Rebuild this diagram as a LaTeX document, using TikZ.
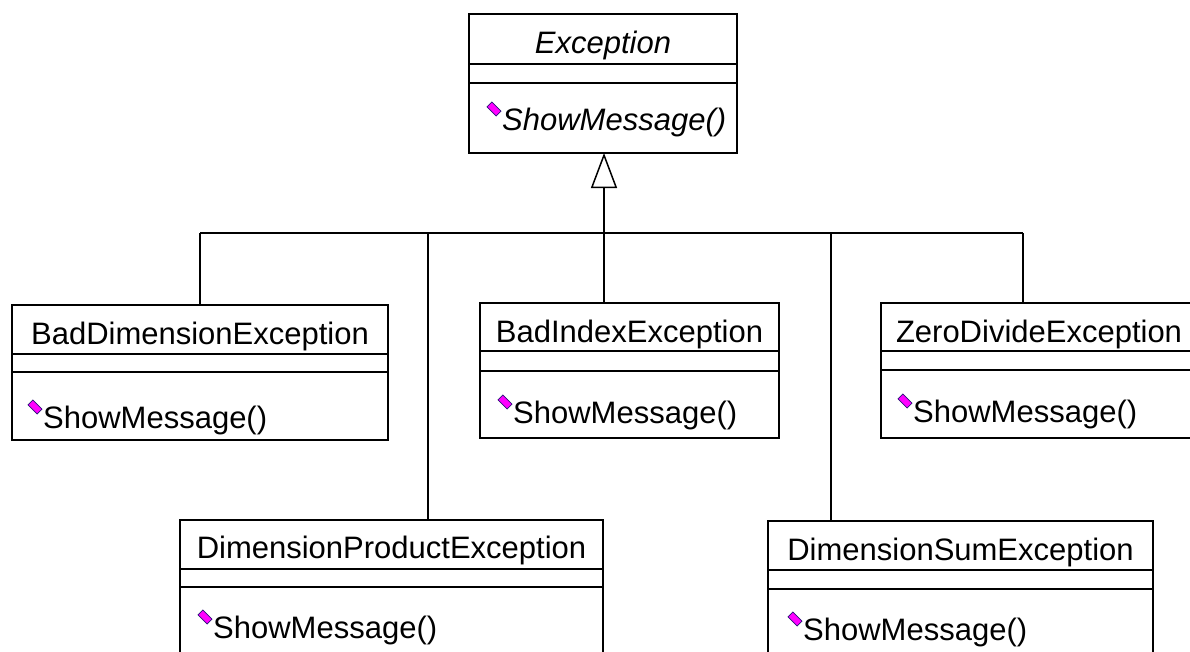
\documentclass[tikz,border=0pt]{standalone}
\usepackage{fontspec}
\setmainfont{Liberation Sans}
\usetikzlibrary{arrows.meta}
\definecolor{iconfill}{RGB}{255,0,255}
\definecolor{iconline}{RGB}{40,20,120}
\begin{document}
\begin{tikzpicture}[x=1pt,y=-1pt,
  cls/.style={draw,line width=1.5pt,inner sep=0pt,outer sep=0pt,fill=white,anchor=north west},
  sepline/.style={line width=1.5pt},
  conn/.style={line width=1.5pt},
  ttl/.style={inner sep=0pt,anchor=base,font=\fontsize{31}{31}\selectfont},
  meth/.style={inner sep=0pt,anchor=base west,font=\fontsize{31}{31}\selectfont},
  icon/.style={rectangle,draw=iconline,fill=iconfill,line width=0.7pt,inner sep=0pt,
    minimum width=13pt,minimum height=7pt,rotate=-45}]
\useasboundingbox (0,0) rectangle (1190,651);
\fill[white] (0,0) rectangle (1190,651);
\clip (0,0) rectangle (1190,651);

% class boxes
\node[cls,minimum width=268pt,minimum height=139pt] (exc) at (469,14) {};
\draw[sepline] (469,64) -- (737,64) (469,83) -- (737,83);
\node[cls,minimum width=376pt,minimum height=135pt] (bd) at (12,305) {};
\draw[sepline] (12,354) -- (388,354) (12,372) -- (388,372);
\node[cls,minimum width=299pt,minimum height=135pt] (bi) at (480,303) {};
\draw[sepline] (480,351) -- (779,351) (480,371) -- (779,371);
\node[cls,minimum width=316pt,minimum height=135pt] (zd) at (881,303) {};
\draw[sepline] (881,351) -- (1197,351) (881,370) -- (1197,370);
\node[cls,minimum width=423pt,minimum height=160pt] (dp) at (180,520) {};
\draw[sepline] (180,569) -- (603,569) (180,587) -- (603,587);
\node[cls,minimum width=385pt,minimum height=160pt] (ds) at (768,521) {};
\draw[sepline] (768,570) -- (1153,570) (768,589) -- (1153,589);

% titles
\node[ttl,font=\fontsize{31}{31}\selectfont\itshape] (excT) at (603,53) {Exception};
\node[ttl] (bdT) at (200,344) {BadDimensionException};
\node[ttl] (biT) at (629.5,342) {BadIndexException};
\node[ttl] (zdT) at (1039,342) {ZeroDivideException};
\node[ttl] (dpT) at (391.5,558) {DimensionProductException};
\node[ttl] (dsT) at (960.5,560) {DimensionSumException};

% methods
\node[meth,font=\fontsize{31}{31}\selectfont\itshape] (excM) at (502,130) {ShowMessage()};
\node[meth] (bdM) at (43,428) {ShowMessage()};
\node[meth] (biM) at (513,423) {ShowMessage()};
\node[meth] (zdM) at (913,422) {ShowMessage()};
\node[meth] (dpM) at (213,638) {ShowMessage()};
\node[meth] (dsM) at (803,640) {ShowMessage()};
\foreach \m in {excM,bdM,biM,zdM,dpM,dsM}
  \node[icon] at ([xshift=-8pt,yshift=21pt]\m.base west) {};

% connectors
\coordinate (hub) at (604,233);
\coordinate (j1) at (200,233);
\coordinate (j2) at (428,233);
\coordinate (j4) at (831,233);
\coordinate (j5) at (1023,233);
\draw[conn] (j1) -- (j5);
\draw[conn] (j1) -- (j1 |- bd.north);
\draw[conn] (j2) -- (j2 |- dp.north);
\draw[conn] (j4) -- (j4 |- ds.north);
\draw[conn] (j5) -- (j5 |- zd.north);
\draw[conn] (hub) -- (hub |- bi.north);
\draw[conn,-{Triangle[open,length=35pt,width=26pt,line width=1.5pt]}] (hub) -- (hub |- exc.south);
\end{tikzpicture}
\end{document}
